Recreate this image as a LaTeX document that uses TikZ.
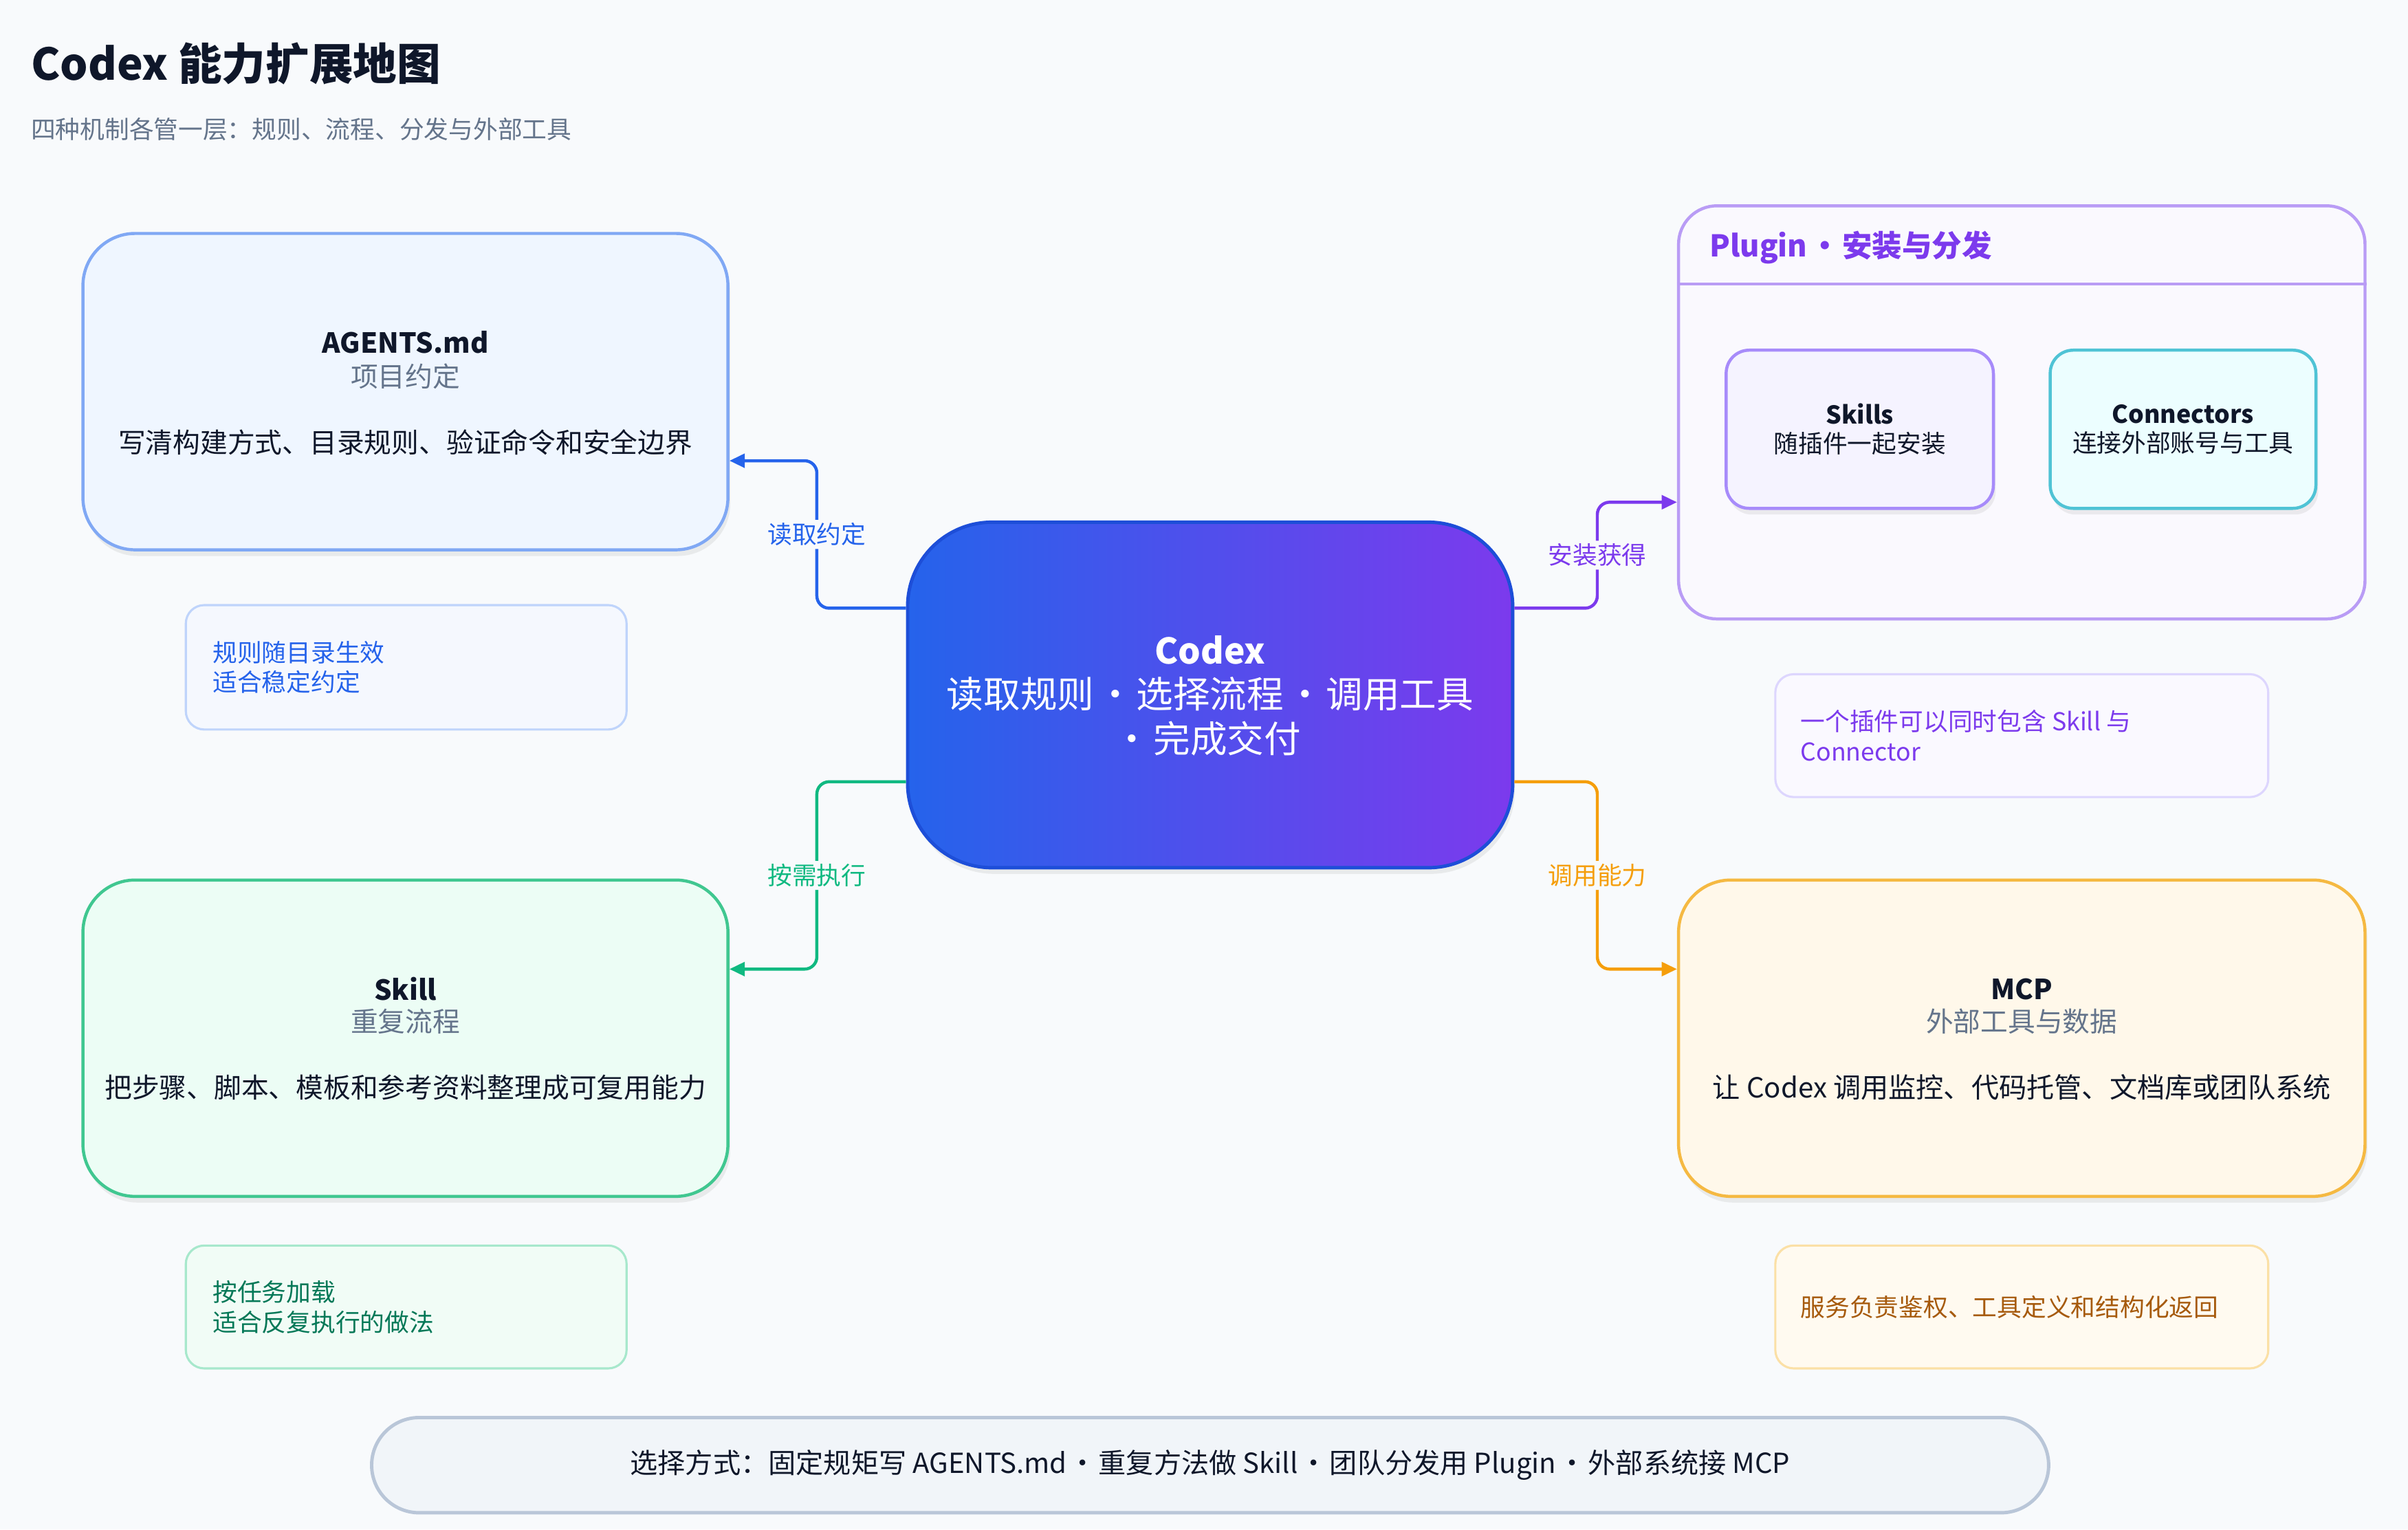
\documentclass[tikz,border=0pt]{standalone}
\usepackage{fontspec}
\setmainfont{Noto Sans CJK SC}
\usetikzlibrary{arrows.meta,shadows,calc}
\newcommand\dotsep{\hspace{-0.15em}·\hspace{-0.15em}}
\definecolor{bg}{HTML}{F8FAFC}
\definecolor{ink}{HTML}{0F172A}
\definecolor{slate}{HTML}{64748B}
\definecolor{cblue}{HTML}{2563EB}
\definecolor{cgreen}{HTML}{10B981}
\definecolor{cpurple}{HTML}{7C3AED}
\definecolor{corange}{HTML}{F59E0B}
\definecolor{agfill}{HTML}{EFF6FF}
\definecolor{agdraw}{HTML}{80A8F4}
\definecolor{skfill}{HTML}{ECFDF5}
\definecolor{skdraw}{HTML}{40C790}
\definecolor{plfill}{HTML}{FAF9FE}
\definecolor{pldraw}{HTML}{B99CF5}
\definecolor{sbfill}{HTML}{F5F3FF}
\definecolor{sbdraw}{HTML}{A78BFA}
\definecolor{cnfill}{HTML}{ECFEFF}
\definecolor{cndraw}{HTML}{4FC3D5}
\definecolor{mcfill}{HTML}{FFF8EA}
\definecolor{mcdraw}{HTML}{F5B942}
\definecolor{n1fill}{HTML}{F5F8FE}
\definecolor{n1draw}{HTML}{BFD4FB}
\definecolor{n2fill}{HTML}{F1FCF6}
\definecolor{n2draw}{HTML}{A7E8CC}
\definecolor{n2text}{HTML}{047857}
\definecolor{n3fill}{HTML}{FAF9FF}
\definecolor{n3draw}{HTML}{DDD6FE}
\definecolor{n4fill}{HTML}{FFFAF0}
\definecolor{n4draw}{HTML}{FBE0A6}
\definecolor{n4text}{HTML}{A65A0C}
\definecolor{barfill}{HTML}{F1F5F9}
\definecolor{bardraw}{HTML}{B9C6D8}
\definecolor{gradL}{HTML}{2563EB}
\definecolor{gradR}{HTML}{7C3AED}
\definecolor{codraw}{HTML}{1D4ED8}
\begin{document}
\begin{tikzpicture}[x=1pt,y=-1pt,
  shd/.style={drop shadow={opacity=0.13,shadow xshift=1.5pt,shadow yshift=-4pt}},
  bigbox/.style={draw, rounded corners=34pt, line width=2pt, minimum width=420pt, minimum height=206pt, inner sep=0pt, shd},
  subbox/.style={draw, rounded corners=15pt, line width=2pt, minimum width=174pt, minimum height=103pt, inner sep=0pt, shd, align=center, text=ink, font=\fontsize{16}{19}\selectfont},
  notebox/.style={draw, rounded corners=12pt, line width=1.4pt, minimum height=80pt, inner sep=0pt},
  notetext/.style={anchor=west, align=left, inner sep=0pt, font=\fontsize{16}{19.5}\selectfont},
  ttl/.style={font=\fontsize{18}{21}\selectfont\bfseries, text=ink, inner sep=0pt},
  subt/.style={font=\fontsize{17.8}{21}\selectfont, text=slate, inner sep=0pt},
  desc/.style={font=\fontsize{17.8}{21}\selectfont, text=ink, inner sep=0pt},
  conn/.style={line width=2pt, rounded corners=8pt, -{Triangle[length=10pt,width=9pt]}},
  lbl/.style={fill=bg, inner sep=2pt, font=\fontsize{16}{19}\selectfont}]
\fill[bg] (0,0) rectangle (1568,995.8);
\useasboundingbox (0,0) rectangle (1568,995.8);

% title
\node[anchor=base west, inner sep=0pt, text=ink, font=\fontsize{28.5}{32}\selectfont\bfseries] (title) at (20,52) {Codex 能力扩展地图};
\node[anchor=base west, inner sep=0pt, text=slate, font=\fontsize{16}{19}\selectfont] (subtitle) at (20,90) {四种机制各管一层：规则、流程、分发与外部工具};

% center
\node[draw=codraw, line width=2.2pt, left color=gradL, right color=gradR, rounded corners=55pt, minimum width=394pt, minimum height=225pt, inner sep=0pt, shd] (codex) at (788,452.5) {};
\node[align=center, text=white, inner sep=0pt, font=\fontsize{24}{29}\selectfont] (codexT) at (788,453) {{\fontsize{23}{29}\selectfont\bfseries Codex}\\读取规则 \dotsep{} 选择流程 \dotsep{} 调用工具\\\dotsep{} 完成交付};

% AGENTS
\node[bigbox, fill=agfill, draw=agdraw] (agents) at (264,255) {};
\node[ttl] (agentsT) at ([yshift=32pt]agents.center) {AGENTS.md};
\node[subt] (agentsS) at ([yshift=10pt]agents.center) {项目约定};
\node[desc] (agentsD) at ([yshift=-33pt]agents.center) {写清构建方式、目录规则、验证命令和安全边界};

% Skill
\node[bigbox, fill=skfill, draw=skdraw] (skill) at (264,676) {};
\node[ttl] (skillT) at ([yshift=32pt]skill.center) {Skill};
\node[subt] (skillS) at ([yshift=11pt]skill.center) {重复流程};
\node[desc] (skillD) at ([yshift=-32pt]skill.center) {把步骤、脚本、模板和参考资料整理成可复用能力};

% MCP
\node[bigbox, fill=mcfill, draw=mcdraw, minimum width=447pt] (mcp) at (1316.5,676) {};
\node[ttl] (mcpT) at ([yshift=32pt]mcp.center) {MCP};
\node[subt] (mcpS) at ([yshift=11pt]mcp.center) {外部工具与数据};
\node[desc, font=\fontsize{18}{21}\selectfont] (mcpD) at ([yshift=-32pt]mcp.center) {让 Codex 调用监控、代码托管、文档库或团队系统};

% Plugin container
\node[draw=pldraw, fill=plfill, line width=2pt, rounded corners=25pt, minimum width=447pt, minimum height=269pt, inner sep=0pt] (plugin) at (1316.5,268.5) {};
\draw[pldraw, line width=2pt] ([yshift=-52pt]plugin.north west) -- ([yshift=-52pt]plugin.north east);
\node[anchor=west, inner sep=0pt, text=cpurple, font=\fontsize{19.5}{23}\selectfont\bfseries] (pluginT) at ([xshift=21pt,yshift=-28pt]plugin.north west) {Plugin \dotsep{} 安装与分发};
\node[subbox, fill=sbfill, draw=sbdraw] (skills) at (1211,279.5) {{\bfseries Skills}\\随插件一起安装};
\node[subbox, fill=cnfill, draw=cndraw, minimum width=173pt] (connectors) at (1421.5,279.5) {{\bfseries Connectors}\\连接外部账号与工具};

% notes
\node[notebox, fill=n1fill, draw=n1draw, minimum width=287pt, minimum height=81pt] (note1) at (264.5,434.5) {};
\node[notetext, text=cblue] (note1T) at ([xshift=18pt]note1.west) {规则随目录生效\\适合稳定约定};
\node[notebox, fill=n2fill, draw=n2draw, minimum width=287pt] (note2) at (264.5,851) {};
\node[notetext, text=n2text] (note2T) at ([xshift=18pt]note2.west) {按任务加载\\适合反复执行的做法};
\node[notebox, fill=n3fill, draw=n3draw, minimum width=321pt] (note3) at (1316.5,479) {};
\node[notetext, text=cpurple] (note3T) at ([xshift=17pt]note3.west) {一个插件可以同时包含 Skill 与\\Connector};
\node[notebox, fill=n4fill, draw=n4draw, minimum width=321pt] (note4) at (1316.5,851) {};
\node[notetext, text=n4text] (note4T) at ([xshift=17pt]note4.west) {服务负责鉴权、工具定义和结构化返回};

% connectors
\draw[conn, cblue] ([yshift=56.5pt]codex.west) -- ++(-58,0) |- node[lbl, pos=0.25, text=cblue] {读取约定} ([yshift=-45pt]agents.east);
\draw[conn, cgreen] ([yshift=-56.5pt]codex.west) -- ++(-58,0) |- node[lbl, pos=0.25, text=cgreen] {按需执行} ([yshift=45pt]skill.east);
\draw[conn, cpurple] ([yshift=56.5pt]codex.east) -- ++(54,0) |- node[lbl, pos=0.25, text=cpurple] {安装获得} ([yshift=-58.5pt]plugin.west);
\draw[conn, corange] ([yshift=-56.5pt]codex.east) -- ++(54,0) |- node[lbl, pos=0.25, text=corange] {调用能力} ([yshift=45pt]mcp.west);

% bottom bar
\node[draw=bardraw, fill=barfill, line width=2.2pt, rounded corners=31pt, minimum width=1092pt, minimum height=62pt, inner sep=0pt, text=ink, font=\fontsize{18}{20}\selectfont] (bar) at (788,954) {选择方式：固定规矩写 AGENTS.md \dotsep{} 重复方法做 Skill \dotsep{} 团队分发用 Plugin \dotsep{} 外部系统接 MCP};
\end{tikzpicture}
\end{document}
